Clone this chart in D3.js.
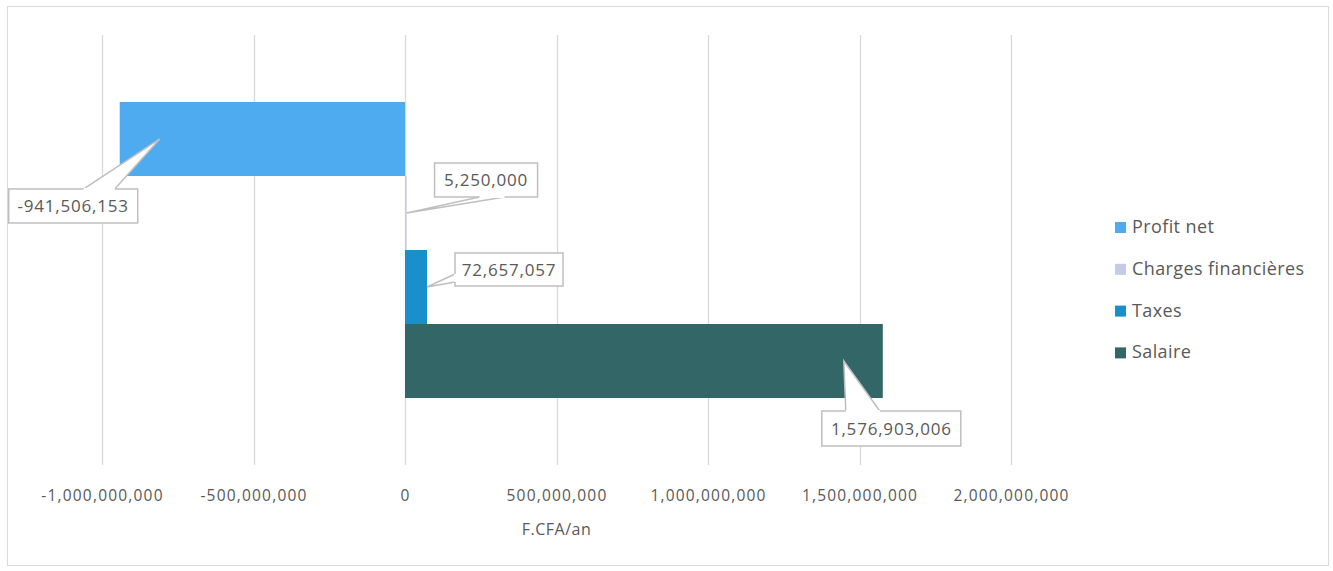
<!DOCTYPE html>
<html>
<head>
<meta charset="utf-8">
<script src="https://cdn.jsdelivr.net/npm/d3@7"></script>
<style>
  body { margin: 0; background: #fff; }
  text { font-family: 'Open Sans', sans-serif; fill: #595959; }
</style>
</head>
<body>
<script>
// Chart data
const series = ['Profit net', 'Charges financières', 'Taxes', 'Salaire']
const values = [-941506153, 5250000, 72657057, 1576903006]
const seriesColors = ['#4EABF0', '#C5CAE6', '#198FCC', '#336666']
const tickValues = [-1000000000, -500000000, 0, 500000000, 1000000000, 1500000000, 2000000000]
const axisTitle = 'F.CFA/an'

// Callout placement: tip shift from bar end, box top-left relative to tip, pointer base on box
const callouts = [
  { shift: 40, dx: -151, dy: 50, w: 129, h: 34, base: [[75, 0], [106, 0]] },
  { shift: 0, dx: 28, dy: -50, w: 103, h: 34, base: [[45, 34], [70, 34]] },
  { shift: 0, dx: 28, dy: -34, w: 108, h: 33, base: [[0, 21], [0, 29]] },
  { shift: -39, dx: -22, dy: 50, w: 139, h: 35, base: [[24, 0], [58, 0]] },
]

const width = 1333
const height = 571
const plot = { left: 102, right: 1011, top: 35, bottom: 465 }

const svg = d3.select('body').append('svg')
  .attr('width', width)
  .attr('height', height)

// Outer frame
svg.append('rect')
  .attr('x', 7.5).attr('y', 6.5)
  .attr('width', 1321).attr('height', 559)
  .attr('fill', '#fff')
  .attr('stroke', '#d9d9d9')

const x = d3.scaleLinear()
  .domain([-1000000000, 2000000000])
  .range([plot.left, plot.right])

const y = d3.scaleBand()
  .domain(series)
  .range([plot.top, plot.bottom])
  .paddingInner(0)
  .paddingOuter(0.905)

const fmt = d3.formatLocale({ decimal: '.', thousands: ',', grouping: [3], currency: ['', ''], minus: '-' }).format(',')

// Grid lines
svg.append('g')
  .selectAll('line')
  .data(tickValues)
  .join('line')
  .attr('x1', d => Math.round(x(d)) + 0.5)
  .attr('x2', d => Math.round(x(d)) + 0.5)
  .attr('y1', plot.top)
  .attr('y2', plot.bottom)
  .attr('stroke', '#d9d9d9')
  .attr('stroke-width', 1.3)

// Tick labels via axis
const axis = d3.axisBottom(x)
  .tickValues(tickValues)
  .tickFormat(fmt)
  .tickSize(0)
  .tickPadding(0)

const axisG = svg.append('g')
  .attr('transform', `translate(0, ${plot.bottom + 25})`)
  .call(axis)
axisG.select('.domain').remove()
axisG.selectAll('text')
  .style('font-family', "'Open Sans', sans-serif")
  .style('font-size', '15.5px')
  .style('letter-spacing', '1.2px')
  .style('fill', '#595959')

svg.append('text')
  .attr('x', (plot.left + plot.right) / 2)
  .attr('y', 535)
  .attr('text-anchor', 'middle')
  .style('font-size', '16px')
  .style('letter-spacing', '0.5px')
  .text(axisTitle)

// Bars
svg.append('g')
  .selectAll('rect')
  .data(series)
  .join('rect')
  .attr('x', (d, i) => x(Math.min(0, values[i])))
  .attr('y', d => y(d))
  .attr('width', (d, i) => Math.max(1.5, Math.abs(x(values[i]) - x(0))))
  .attr('height', y.bandwidth())
  .attr('fill', (d, i) => seriesColors[i])

// Callouts
const labelG = svg.append('g')
series.forEach((s, i) => {
  const c = callouts[i]
  const tipX = x(values[i]) + c.shift
  const tipY = y(s) + y.bandwidth() / 2
  const ax = tipX + c.dx
  const ay = tipY + c.dy
  const bx0 = ax + c.base[0][0], by0 = ay + c.base[0][1]
  const bx1 = ax + c.base[1][0], by1 = ay + c.base[1][1]

  labelG.append('rect')
    .attr('x', ax).attr('y', ay)
    .attr('width', c.w).attr('height', c.h)
    .attr('fill', '#fff')
    .attr('stroke', '#bfbfbf')
    .attr('stroke-width', 1.5)

  labelG.append('path')
    .attr('d', `M${bx0},${by0} L${tipX},${tipY} L${bx1},${by1}`)
    .attr('fill', '#fff')
    .attr('stroke', '#bfbfbf')
    .attr('stroke-width', 1.5)
    .attr('stroke-linejoin', 'miter')

  // cover the box edge between the pointer base points
  labelG.append('line')
    .attr('x1', bx0).attr('y1', by0)
    .attr('x2', bx1).attr('y2', by1)
    .attr('stroke', '#fff')
    .attr('stroke-width', 2)

  labelG.append('text')
    .attr('x', ax + c.w / 2)
    .attr('y', ay + c.h / 2)
    .attr('text-anchor', 'middle')
    .attr('dominant-baseline', 'central')
    .style('font-size', '17px')
    .style('letter-spacing', '0.8px')
    .text(fmt(values[i]))
})

// Legend
const legend = svg.append('g')
  .attr('transform', 'translate(1115, 0)')
series.forEach((s, i) => {
  const ly = 233 + i * 41.8
  legend.append('rect')
    .attr('x', 0).attr('y', ly - 11)
    .attr('width', 11).attr('height', 11)
    .attr('fill', seriesColors[i])
  legend.append('text')
    .attr('x', 17).attr('y', ly)
    .style('font-size', '18px')
    .style('letter-spacing', '0.4px')
    .text(s)
})
</script>
</body>
</html>
